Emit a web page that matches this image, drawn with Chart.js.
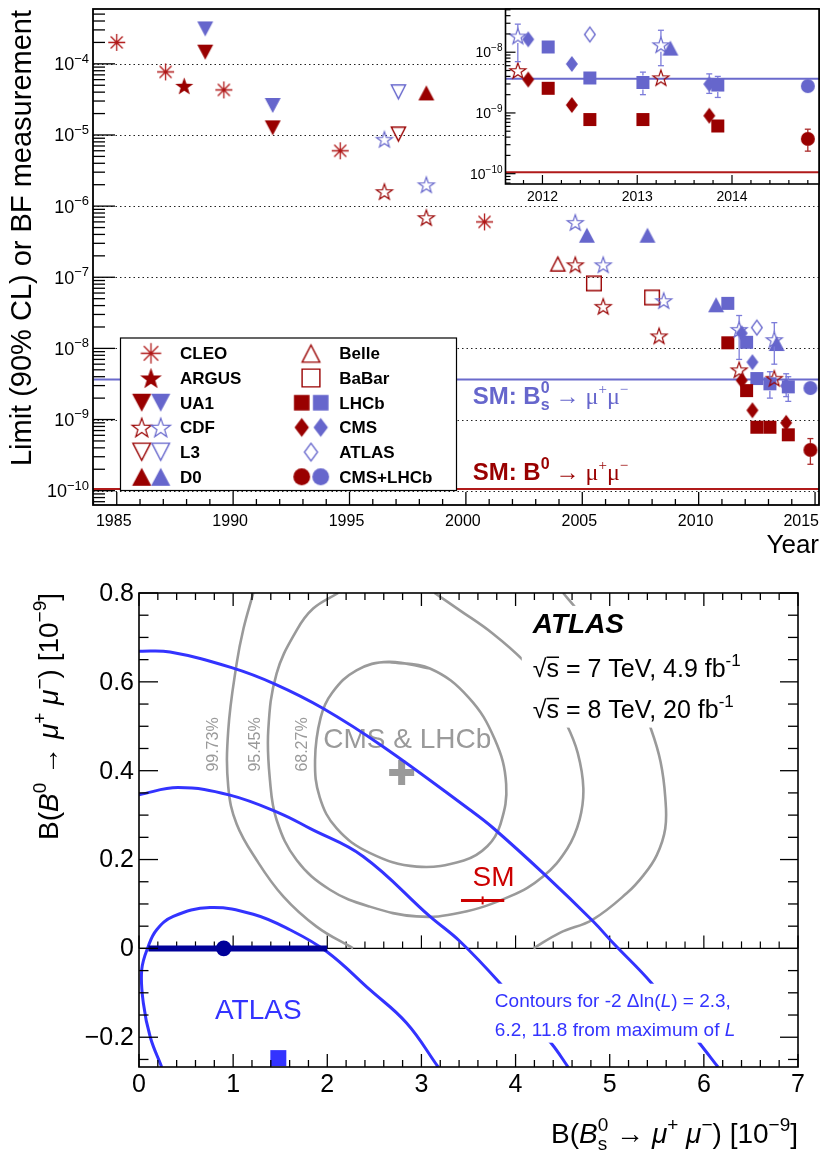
<!DOCTYPE html>
<html>
<head>
<meta charset="utf-8">
<script src="https://cdn.jsdelivr.net/npm/chart.js@4.4.1/dist/chart.umd.min.js"></script>
<style>
  html, body { margin: 0; padding: 0; background: #fff; }
  #wrap { position: relative; width: 832px; height: 1155px; }
  #wrap canvas { position: absolute; left: 0; }
  #top, #inset { top: 0; }
  #bottom { top: 560px; }
</style>
</head>
<body>
<div id="wrap">
  <canvas id="top" width="832" height="560"></canvas>
  <canvas id="inset" width="832" height="560"></canvas>
  <canvas id="bottom" width="832" height="595"></canvas>
</div>
<script>
const SANS = '"Liberation Sans", Arial, Helvetica, sans-serif';
const SERIF = '"Liberation Serif", "Times New Roman", serif';
const RED = '#990000', RED_L = '#b01818', BLUE = '#6666cc';
const RED_ERR = '#aa2a2a', BLUE_ERR = '#7c7cda';

// ---- top panel: limits / measurements vs year   [year, value, errLow, errHigh]
const cleoB0  = [[1985.0, 2.0e-4], [1987.1, 7.7e-5], [1989.6, 4.3e-5], [1994.6, 6.0e-6], [2000.8, 6.0e-7]];
const argusB0 = [[1987.9, 4.9e-5]];
const ua1B0   = [[1988.8, 1.46e-4], [1991.7, 1.26e-5]];
const ua1Bs   = [[1988.8, 3.1e-4], [1991.7, 2.6e-5]];
const cdfB0   = [[1996.5, 1.6e-6], [1998.3, 6.9e-7], [2004.7, 1.5e-7], [2005.9, 3.9e-8], [2008.3, 1.5e-8],
                 [2011.74, 5.0e-9], [2013.25, 3.8e-9]];
const cdfBs   = [[1996.5, 8.7e-6], [1998.3, 2.0e-6], [2004.7, 5.9e-7], [2005.9, 1.5e-7], [2008.5, 4.7e-8],
                 [2011.74, 1.85e-8, 0.7e-8, 2.9e-8], [2013.25, 1.33e-8, 6.0e-9, 2.3e-8]];
const l3B0    = [[1997.1, 1.02e-5]];
const l3Bs    = [[1997.1, 4.0e-5]];
const d0B0    = [[1998.3, 3.9e-5]];
const d0Bs    = [[2005.2, 3.9e-7], [2007.8, 3.9e-7], [2010.75, 4.1e-8], [2013.35, 1.17e-8]];
const belleB0 = [[2003.95, 1.55e-7]];
const babarB0 = [[2005.5, 8.2e-8], [2008.0, 5.2e-8]];
const lhcbB0  = [[2011.25, 1.2e-8], [2012.06, 2.55e-9], [2012.5, 7.8e-10], [2013.06, 7.8e-10], [2013.85, 6.1e-10]];
const lhcbBs  = [[2011.25, 4.3e-8], [2012.06, 1.22e-8], [2012.5, 3.77e-9], [2013.06, 3.18e-9, 2.0e-9, 4.7e-9],
                 [2013.85, 2.88e-9, 1.8e-9, 4.0e-9]];
const cmsB0   = [[2011.85, 3.55e-9], [2012.31, 1.35e-9], [2013.76, 9.0e-10]];
const cmsBs   = [[2011.85, 1.63e-8], [2012.31, 6.4e-9], [2013.76, 2.99e-9, 2.1e-9, 4.4e-9]];
const atlasBs = [[2012.5, 1.96e-8]];
const comboB0 = [[2014.8, 3.74e-10, 2.35e-10, 5.4e-10]];
const comboBs = [[2014.8, 2.77e-9]];
const smBs = 3.66e-9, smB0 = 1.06e-10;

const yearTicks = [1985, 1990, 1995, 2000, 2005, 2010, 2015];
const decadeExps = [-10, -9, -8, -7, -6, -5, -4];
const insetYearTicks = [2012, 2013, 2014];
const insetExps = [-10, -9, -8];

// ---- bottom panel: 2D contours  [B(Bs), B(B0)] in 1e-9
const atlas23 = [[0.241, -0.267], [0.12, -0.20], [0.046, -0.123], [0.029, -0.048], [0.099, 0.005], [0.188, 0.042],
                 [0.364, 0.072], [0.754, 0.092], [1.214, 0.077], [1.603, 0.042], [1.993, -0.007],
                 [2.452, -0.093], [2.842, -0.168], [3.178, -0.267]];
const atlas62 = [[0.0, 0.346], [0.417, 0.362], [0.966, 0.345], [1.497, 0.304], [1.815, 0.270], [2.381, 0.207],
                 [3.090, 0.072], [3.408, 0.016], [3.833, -0.078], [4.381, -0.214], [4.558, -0.267]];
const atlas118 = [[0.0, 0.669], [0.33, 0.667], [0.984, 0.632], [1.444, 0.595], [1.957, 0.540], [2.594, 0.454],
                  [3.514, 0.312], [3.762, 0.271], [4.310, 0.166], [4.823, 0.061], [5.036, 0.012],
                  [5.443, -0.078], [5.956, -0.214], [6.150, -0.267]];
const cmsLhcb68 = [[2.65, 0.645], [3.09, 0.630], [3.50, 0.565], [3.78, 0.47], [3.90, 0.37], [3.84, 0.28],
                   [3.70, 0.23], [3.45, 0.198], [2.95, 0.184], [2.45, 0.215], [2.10, 0.27], [1.92, 0.34],
                   [1.87, 0.424], [1.93, 0.52], [2.05, 0.575], [2.31, 0.626], [2.65, 0.645], [3.09, 0.630]];
const cmsLhcb95 = [[2.116, 0.80], [1.85, 0.765], [1.674, 0.716], [1.462, 0.619], [1.373, 0.491], [1.391, 0.379],
                   [1.462, 0.289], [1.674, 0.199], [2.028, 0.132], [2.452, 0.094], [2.948, 0.072],
                   [3.408, 0.080], [3.939, 0.117], [4.292, 0.162], [4.55, 0.225], [4.68, 0.29], [4.72, 0.36],
                   [4.66, 0.44], [4.54, 0.505], [4.33, 0.585], [4.098, 0.645], [3.75, 0.71], [3.408, 0.761],
                   [3.14, 0.80]];
const cmsLhcb99a = [[1.214, 0.80], [1.11, 0.72], [1.037, 0.641], [0.948, 0.491], [0.948, 0.364], [1.037, 0.280],
                    [1.249, 0.199], [1.532, 0.117], [1.886, 0.049], [2.275, 0.0]];
const cmsLhcb99b = [[4.505, 0.80], [4.629, 0.769], [5.0, 0.67], [5.28, 0.575], [5.443, 0.491], [5.54, 0.42],
                    [5.59, 0.34], [5.59, 0.27], [5.50, 0.21], [5.36, 0.165], [5.18, 0.124], [4.82, 0.065],
                    [4.47, 0.035], [4.19, 0.0]];
const cmsLhcbBest = [[2.79, 0.396]];
const atlasBest = [[0.9, 0.0]];
const atlasInterval = [[0.1, 0.0], [2.0, 0.0]];
const atlasMaxL = [[1.48, -0.247]];
const smPoint = [3.65, 0.108];
const smErr = [0.23, 0.009];

const bsTicks = [0, 1, 2, 3, 4, 5, 6, 7];
const b0Ticks = [-0.2, 0, 0.2, 0.4, 0.6, 0.8];
const b0TickLabels = ['\u22120.2', '0', '0.2', '0.4', '0.6', '0.8'];

// ---- helpers
function line(ctx, x1, y1, x2, y2) {
  ctx.beginPath(); ctx.moveTo(x1, y1); ctx.lineTo(x2, y2); ctx.stroke();
}

function drawRich(ctx, parts, x, y, align) {
  let total = 0;
  parts.forEach(p => { ctx.font = p.f; p.w = ctx.measureText(p.t).width; if (!p.over) total += p.w; });
  let cx = align === 'right' ? x - total : align === 'center' ? x - total / 2 : x;
  ctx.textAlign = 'left';
  ctx.textBaseline = 'alphabetic';
  parts.forEach(p => {
    ctx.font = p.f;
    ctx.fillText(p.t, cx, y + (p.dy || 0));
    if (p.bar) ctx.fillRect(cx, y - p.bar, p.w, 1.5);
    if (!p.over) cx += p.w;
  });
}

function drawPow(ctx, e, xr, yc, size) {
  drawRich(ctx, [
    { t: '10', f: `${size}px ${SANS}` },
    { t: '\u2212' + (-e), f: `${Math.round(size * 0.72)}px ${SANS}`, dy: -size * 0.42 }
  ], xr, yc + size * 0.36, 'right');
}

function makeMarker(shape, color, filled, w, h, lw) {
  const c = document.createElement('canvas');
  c.width = Math.ceil(w) + 4;
  c.height = Math.ceil(h) + 4;
  const g = c.getContext('2d');
  g.translate(c.width / 2, c.height / 2);
  g.strokeStyle = color;
  g.fillStyle = color;
  g.lineWidth = lw || 1;
  const rx = w / 2, ry = h / 2;
  g.beginPath();
  if (shape === 'asterisk') {
    for (let k = 0; k < 4; k++) {
      const t = k * Math.PI / 4;
      g.moveTo(-rx * Math.cos(t), -ry * Math.sin(t));
      g.lineTo(rx * Math.cos(t), ry * Math.sin(t));
    }
    g.stroke();
    g.beginPath(); g.arc(0, 0, 1.7, 0, 2 * Math.PI); g.fill();
    return c;
  }
  if (shape === 'star') {
    const R = rx - (filled ? 0 : lw / 2);
    for (let k = 0; k < 10; k++) {
      const r = k % 2 ? R * 0.4 : R, t = -Math.PI / 2 + k * Math.PI / 5;
      g.lineTo(r * Math.cos(t), r * Math.sin(t) + R * 0.095);
    }
    g.closePath();
  } else if (shape === 'triUp' || shape === 'triDown') {
    const s = shape === 'triUp' ? 1 : -1, ix = filled ? 0 : lw, iy = filled ? 0 : lw;
    g.moveTo(0, -s * (ry - iy));
    g.lineTo(rx - ix, s * (ry - iy / 2));
    g.lineTo(-(rx - ix), s * (ry - iy / 2));
    g.closePath();
  } else if (shape === 'square') {
    const d = filled ? 0 : lw / 2;
    g.rect(-rx + d, -ry + d, w - 2 * d, h - 2 * d);
  } else if (shape === 'diamond') {
    const d = filled ? 0 : lw / 2;
    g.moveTo(0, -ry + d); g.lineTo(rx - d, 0); g.lineTo(0, ry - d); g.lineTo(-rx + d, 0);
    g.closePath();
  } else if (shape === 'circle') {
    g.arc(0, 0, rx, 0, 2 * Math.PI);
  }
  if (filled) g.fill(); else g.stroke();
  return c;
}

const markerSpecs = {
  cleo:   ['asterisk', RED_L, false, 17, 17, 1.3],
  argus:  ['star', RED, true, 19, 18],
  ua1R:   ['triDown', RED, true, 16, 15],
  ua1B:   ['triDown', BLUE, true, 16, 15],
  cdfR:   ['star', RED, false, 18, 17, 1.2],
  cdfB:   ['star', BLUE, false, 18, 17, 1.2],
  l3R:    ['triDown', RED, false, 17, 16, 1.4],
  l3B:    ['triDown', BLUE, false, 17, 16, 1.4],
  d0R:    ['triUp', RED, true, 16, 15],
  d0B:    ['triUp', BLUE, true, 16, 15],
  belle:  ['triUp', RED, false, 17, 16, 1.4],
  babar:  ['square', RED, false, 16, 16, 1.4],
  lhcbR:  ['square', RED, true, 13, 13],
  lhcbB:  ['square', BLUE, true, 13, 13],
  cmsR:   ['diamond', RED, true, 12, 16],
  cmsB:   ['diamond', BLUE, true, 12, 16],
  atlas:  ['diamond', BLUE, false, 12, 16, 1.3],
  comboR: ['circle', RED, true, 14, 14],
  comboB: ['circle', BLUE, true, 14, 14]
};

function buildMarkers(s) {
  const out = {};
  Object.keys(markerSpecs).forEach(k => {
    const [shape, color, filled, w, h, lw] = markerSpecs[k];
    out[k] = makeMarker(shape, color, filled, w * s, h * s, lw);
  });
  return out;
}
const plotMarkers = buildMarkers(1);
const legendMarkers = buildMarkers(1.2);

const topSeries = [
  { data: cleoB0, m: 'cleo', err: RED_ERR }, { data: argusB0, m: 'argus', err: RED_ERR },
  { data: ua1B0, m: 'ua1R', err: RED_ERR }, { data: ua1Bs, m: 'ua1B', err: BLUE_ERR },
  { data: cdfB0, m: 'cdfR', err: RED_ERR }, { data: cdfBs, m: 'cdfB', err: BLUE_ERR },
  { data: l3B0, m: 'l3R', err: RED_ERR }, { data: l3Bs, m: 'l3B', err: BLUE_ERR },
  { data: d0B0, m: 'd0R', err: RED_ERR }, { data: d0Bs, m: 'd0B', err: BLUE_ERR },
  { data: belleB0, m: 'belle', err: RED_ERR }, { data: babarB0, m: 'babar', err: RED_ERR },
  { data: lhcbB0, m: 'lhcbR', err: RED_ERR }, { data: lhcbBs, m: 'lhcbB', err: BLUE_ERR },
  { data: cmsB0, m: 'cmsR', err: RED_ERR }, { data: cmsBs, m: 'cmsB', err: BLUE_ERR },
  { data: atlasBs, m: 'atlas', err: BLUE_ERR },
  { data: comboB0, m: 'comboR', err: RED_ERR }, { data: comboBs, m: 'comboB', err: BLUE_ERR }
];

const legendCols = [
  { mx: [151], pair: [141.7, 160.7], tx: 180, rows: [['CLEO', ['cleo']], ['ARGUS', ['argus']], ['UA1', ['ua1R', 'ua1B']],
    ['CDF', ['cdfR', 'cdfB']], ['L3', ['l3R', 'l3B']], ['D0', ['d0R', 'd0B']]] },
  { mx: [311], pair: [301.7, 320.7], tx: 339.3, rows: [['Belle', ['belle']], ['BaBar', ['babar']], ['LHCb', ['lhcbR', 'lhcbB']],
    ['CMS', ['cmsR', 'cmsB']], ['ATLAS', ['atlas']], ['CMS+LHCb', ['comboR', 'comboB']]] }
];

function topDatasets() {
  return topSeries.map(s => ({
    data: s.data.map(([x, y, lo, hi]) => ({ x, y, lo, hi })),
    pointStyle: plotMarkers[s.m],
    pointRadius: 8,
    errColor: s.err
  }));
}

const errorBars = {
  id: 'errorBars',
  afterDatasetsDraw(chart) {
    const { ctx, scales: { x, y } } = chart;
    ctx.save();
    ctx.lineWidth = 1.3;
    chart.data.datasets.forEach(ds => {
      ds.data.forEach(p => {
        if (p.lo == null || p.x < x.min || p.x > x.max) return;
        const px = x.getPixelForValue(p.x);
        const y1 = y.getPixelForValue(p.lo), y2 = y.getPixelForValue(p.hi);
        const yc = y.getPixelForValue(p.y);
        ctx.strokeStyle = ds.errColor;
        line(ctx, px, y2, px, yc - 7);
        line(ctx, px, yc + 7, px, y1);
        line(ctx, px - 3, y1, px + 3, y1);
        line(ctx, px - 3, y2, px + 3, y2);
      });
    });
    ctx.restore();
  }
};

function smLines(ctx, a, y) {
  ctx.lineWidth = 2;
  ctx.strokeStyle = '#6a6acc';
  const yb = y.getPixelForValue(smBs);
  line(ctx, a.left, yb, a.right, yb);
  ctx.strokeStyle = '#b01a1a';
  const yr = y.getPixelForValue(smB0);
  line(ctx, a.left, yr, a.right, yr);
}

const topAxes = {
  id: 'topAxes',
  beforeDatasetsDraw(chart) {
    const { ctx, chartArea: a, scales: { y } } = chart;
    ctx.save();
    ctx.strokeStyle = '#222';
    ctx.lineWidth = 1;
    ctx.setLineDash([1.5, 3]);
    decadeExps.forEach(e => {
      const py = Math.round(y.getPixelForValue(Math.pow(10, e))) + 0.5;
      line(ctx, a.left, py, a.right, py);
    });
    ctx.setLineDash([]);
    smLines(ctx, a, y);
    ctx.restore();
  },
  afterDatasetsDraw(chart) {
    const { ctx } = chart;
    ctx.save();
    // SM labels
    const up = -11, sm = `bold 16px ${SANS}`, ser = `24px ${SERIF}`, serSm = `15px ${SERIF}`;
    ctx.fillStyle = BLUE;
    drawRich(ctx, [
      { t: 'SM: B', f: `bold 24px ${SANS}` }, { t: 's', f: sm, dy: 6, over: true }, { t: '0', f: sm, dy: up },
      { t: ' \u2192 ', f: ser }, { t: '\u03bc', f: ser }, { t: '+', f: serSm, dy: -10 },
      { t: '\u03bc', f: ser }, { t: '\u2212', f: serSm, dy: -10 }
    ], 472.7, 404, 'left');
    ctx.fillStyle = RED;
    drawRich(ctx, [
      { t: 'SM: B', f: `bold 24px ${SANS}` }, { t: '0', f: sm, dy: up },
      { t: ' \u2192 ', f: ser }, { t: '\u03bc', f: ser }, { t: '+', f: serSm, dy: -10 },
      { t: '\u03bc', f: ser }, { t: '\u2212', f: serSm, dy: -10 }
    ], 472.7, 480, 'left');
    // legend
    ctx.fillStyle = '#fff';
    ctx.fillRect(120.5, 338, 336, 152.5);
    ctx.strokeStyle = '#000';
    ctx.lineWidth = 1.2;
    ctx.strokeRect(120.5, 338, 336, 152.5);
    ctx.fillStyle = '#000';
    ctx.textAlign = 'left';
    ctx.textBaseline = 'alphabetic';
    legendCols.forEach(col => {
      col.rows.forEach(([label, keys], i) => {
        const yc = 353.3 + i * 24.7;
        const xs = keys.length === 1 ? col.mx : col.pair;
        keys.forEach((k, j) => {
          const img = legendMarkers[k];
          ctx.drawImage(img, xs[j] - img.width / 2, yc - img.height / 2);
        });
        ctx.font = `bold 17px ${SANS}`;
        ctx.fillText(label, col.tx, yc + 6);
      });
    });
    ctx.restore();
  },
  afterDraw(chart) {
    const { ctx, chartArea: a, scales: { x, y } } = chart;
    ctx.save();
    ctx.strokeStyle = '#000';
    ctx.lineWidth = 1.8;
    ctx.strokeRect(a.left, a.top, a.right - a.left, a.bottom - a.top);
    ctx.lineWidth = 1.3;
    for (let yr = 1984; yr <= 2015; yr++) {
      const px = x.getPixelForValue(yr);
      line(ctx, px, a.bottom, px, a.bottom - (yr % 5 ? 6 : 13));
    }
    for (let e = -11; e <= -4; e++) {
      for (let k = 1; k <= 9; k++) {
        const v = k * Math.pow(10, e);
        if (v < y.min || v > y.max) continue;
        const py = y.getPixelForValue(v);
        line(ctx, a.left, py, a.left + (k === 1 ? 22 : 12), py);
      }
    }
    ctx.fillStyle = '#000';
    decadeExps.forEach(e => drawPow(ctx, e, a.left - 4, y.getPixelForValue(Math.pow(10, e)), 18));
    ctx.font = `16px ${SANS}`;
    ctx.textBaseline = 'alphabetic';
    yearTicks.forEach(v => {
      const px = x.getPixelForValue(v);
      // last label is kept inside the frame, as in the original
      ctx.textAlign = px + 18 > a.right ? 'right' : 'center';
      ctx.fillText(String(v), px + 18 > a.right ? a.right : px - 3, a.bottom + 21);
    });
    ctx.font = `26px ${SANS}`;
    ctx.textAlign = 'right';
    ctx.fillText('Year', a.right, a.bottom + 48);
    ctx.translate(31, a.top + 1);
    ctx.rotate(-Math.PI / 2);
    ctx.font = `29px ${SANS}`;
    ctx.textAlign = 'right';
    ctx.fillText('Limit (90% CL) or BF measurement', 0, 0);
    ctx.restore();
  }
};

const insetAxes = {
  id: 'insetAxes',
  beforeDatasetsDraw(chart) {
    const { ctx, chartArea: a, scales: { y } } = chart;
    ctx.save();
    ctx.fillStyle = '#fff';
    ctx.fillRect(a.left, a.top, a.right - a.left, a.bottom - a.top);
    smLines(ctx, a, y);
    ctx.restore();
  },
  afterDraw(chart) {
    const { ctx, chartArea: a, scales: { x, y } } = chart;
    ctx.save();
    ctx.strokeStyle = '#000';
    ctx.lineWidth = 1.6;
    ctx.strokeRect(a.left, a.top, a.right - a.left, a.bottom - a.top);
    ctx.lineWidth = 1.2;
    for (let k = Math.ceil(x.min * 5); k <= Math.floor(x.max * 5); k++) {
      const px = x.getPixelForValue(k / 5);
      line(ctx, px, a.bottom, px, a.bottom - (k % 5 ? 4 : 9));
    }
    for (let e = -11; e <= -8; e++) {
      for (let k = 1; k <= 9; k++) {
        const v = k * Math.pow(10, e);
        if (v < y.min || v > y.max) continue;
        const py = y.getPixelForValue(v);
        line(ctx, a.left, py, a.left + (k === 1 ? 10 : 5), py);
      }
    }
    ctx.fillStyle = '#000';
    insetExps.forEach(e => drawPow(ctx, e, a.left - 3, y.getPixelForValue(Math.pow(10, e)), 14));
    ctx.font = `14px ${SANS}`;
    ctx.textAlign = 'center';
    ctx.textBaseline = 'alphabetic';
    insetYearTicks.forEach(v => ctx.fillText(String(v), x.getPixelForValue(v), a.bottom + 17));
    ctx.restore();
  }
};

const commonOpts = {
  responsive: false,
  animation: false,
  events: [],
  plugins: { legend: { display: false }, tooltip: { enabled: false } }
};

new Chart(document.getElementById('top'), {
  type: 'scatter',
  data: { datasets: topDatasets() },
  options: Object.assign({}, commonOpts, {
    layout: { padding: { left: 93, right: 13, top: 3, bottom: 55 } },
    scales: {
      x: { type: 'linear', display: false, min: 1983.98, max: 2015.17 },
      y: { type: 'logarithmic', display: false, min: 6.29e-11, max: 5.9e-4 }
    }
  }),
  plugins: [errorBars, topAxes]
});

new Chart(document.getElementById('inset'), {
  type: 'scatter',
  data: { datasets: topDatasets() },
  options: Object.assign({}, commonOpts, {
    layout: { padding: { left: 505.5, right: 13, top: 3, bottom: 376 } },
    scales: {
      x: { type: 'linear', display: false, min: 2011.61, max: 2014.918 },
      y: { type: 'logarithmic', display: false, min: 6.76e-11, max: 5.15e-8 }
    }
  }),
  plugins: [errorBars, insetAxes]
});

// ---- bottom panel
const GRAY = '#9a9a9a', CBLUE = '#3333ff', NAVY = '#000099', SMRED = '#cc0000';
const curve = (arr, color, width, order) => ({
  data: arr.map(([x, y]) => ({ x, y })),
  showLine: true, borderColor: color, borderWidth: width,
  pointRadius: 0, tension: 0.4, fill: false, order
});

function bTitle(sz, sub) {
  const n = `${sz}px ${SANS}`, it = `italic ${sz}px ${SANS}`, sm = `${Math.round(sz * 0.68)}px ${SANS}`;
  const up = -sz * 0.42, dn = sz * 0.25;
  const parts = [{ t: 'B(', f: n }, { t: 'B', f: it }];
  if (sub) parts.push({ t: sub, f: sm, dy: dn, over: true });
  parts.push({ t: '0', f: sm, dy: up },
    { t: ' \u2192 ', f: n }, { t: '\u03bc', f: it }, { t: '+', f: sm, dy: up },
    { t: ' ', f: n }, { t: '\u03bc', f: it }, { t: '\u2212', f: sm, dy: up },
    { t: ') [10', f: n }, { t: '\u22129', f: sm, dy: up }, { t: ']', f: n });
  return parts;
}

const bottomAxes = {
  id: 'bottomAxes',
  beforeDatasetsDraw(chart) {
    const { ctx, chartArea: a, scales: { x, y } } = chart;
    ctx.save();
    const y0 = y.getPixelForValue(0);
    ctx.strokeStyle = '#000';
    ctx.lineWidth = 1.4;
    line(ctx, a.left, y0, a.right, y0);
    ctx.lineWidth = 1.2;
    for (let i = 0; i <= 35; i++) {
      const px = x.getPixelForValue(i * 0.2);
      line(ctx, px, y0, px, y0 - (i % 5 ? 7 : 13));
    }
    // CL labels
    ctx.fillStyle = GRAY;
    ctx.font = `16px ${SANS}`;
    ctx.textAlign = 'center';
    ctx.textBaseline = 'alphabetic';
    [['99.73%', 0.842], ['95.45%', 1.285], ['68.27%', 1.78]].forEach(([t, xv]) => {
      ctx.save();
      ctx.translate(x.getPixelForValue(xv), y.getPixelForValue(0.459));
      ctx.rotate(-Math.PI / 2);
      ctx.fillText(t, 0, 0);
      ctx.restore();
    });
    ctx.font = `28px ${SANS}`;
    ctx.textAlign = 'left';
    ctx.fillText('CMS & LHCb', x.getPixelForValue(1.957), y.getPixelForValue(0.451));
    ctx.restore();
  },
  afterDatasetsDraw(chart) {
    const { ctx, scales: { x, y } } = chart;
    ctx.save();
    // SM point with error
    const sx = x.getPixelForValue(smPoint[0]), sy = y.getPixelForValue(smPoint[1]);
    ctx.strokeStyle = SMRED;
    ctx.lineWidth = 3;
    line(ctx, x.getPixelForValue(smPoint[0] - smErr[0]), sy, x.getPixelForValue(smPoint[0] + smErr[0]), sy);
    ctx.lineWidth = 2;
    line(ctx, sx, y.getPixelForValue(smPoint[1] - smErr[1]), sx, y.getPixelForValue(smPoint[1] + smErr[1]));
    ctx.fillStyle = SMRED;
    ctx.font = `28px ${SANS}`;
    ctx.textAlign = 'left';
    ctx.textBaseline = 'alphabetic';
    ctx.fillText('SM', sx - 10, sy - 14);
    // ATLAS label
    ctx.fillStyle = CBLUE;
    ctx.fillText('ATLAS', x.getPixelForValue(0.807), y.getPixelForValue(-0.158));
    // contour text box
    const bx1 = x.getPixelForValue(3.727), bx2 = x.getPixelForValue(6.826);
    const by1 = y.getPixelForValue(-0.0795), by2 = y.getPixelForValue(-0.2123);
    ctx.fillStyle = '#fff';
    ctx.fillRect(bx1, by1, bx2 - bx1, by2 - by1);
    ctx.fillStyle = CBLUE;
    const f19 = `19px ${SANS}`, i19 = `italic 19px ${SANS}`;
    const tx = x.getPixelForValue(3.78);
    drawRich(ctx, [{ t: 'Contours for -2 \u0394ln(', f: f19 }, { t: 'L', f: i19 }, { t: ') = 2.3,', f: f19 }],
      tx, y.getPixelForValue(-0.131), 'left');
    drawRich(ctx, [{ t: '6.2, 11.8 from maximum of ', f: f19 }, { t: 'L', f: i19 }],
      tx, y.getPixelForValue(-0.198), 'left');
    // ATLAS header box
    const hx1 = x.getPixelForValue(4.066), hx2 = x.getPixelForValue(6.965);
    const hy1 = y.getPixelForValue(0.771), hy2 = y.getPixelForValue(0.497);
    ctx.fillStyle = '#fff';
    ctx.fillRect(hx1, hy1, hx2 - hx1, hy2 - hy1);
    ctx.fillStyle = '#000';
    const ax = x.getPixelForValue(4.183);
    ctx.font = `italic bold 28px ${SANS}`;
    ctx.fillText('ATLAS', ax, y.getPixelForValue(0.710));
    const f25 = `25px ${SANS}`, s17 = `17px ${SANS}`;
    drawRich(ctx, [{ t: '\u221a', f: f25 }, { t: 's', f: f25, bar: 20 }, { t: ' = 7 TeV, 4.9 fb', f: f25 },
      { t: '-1', f: s17, dy: -11 }], ax, y.getPixelForValue(0.612), 'left');
    drawRich(ctx, [{ t: '\u221a', f: f25 }, { t: 's', f: f25, bar: 20 }, { t: ' = 8 TeV, 20 fb', f: f25 },
      { t: '-1', f: s17, dy: -11 }], ax, y.getPixelForValue(0.519), 'left');
    ctx.restore();
  },
  afterDraw(chart) {
    const { ctx, chartArea: a, scales: { x, y } } = chart;
    ctx.save();
    ctx.strokeStyle = '#000';
    ctx.lineWidth = 1.6;
    ctx.strokeRect(a.left, a.top, a.right - a.left, a.bottom - a.top);
    ctx.lineWidth = 1.3;
    for (let i = 0; i <= 35; i++) {
      const px = x.getPixelForValue(i * 0.2), len = i % 5 ? 7 : 13;
      line(ctx, px, a.bottom, px, a.bottom - len);
      line(ctx, px, a.top, px, a.top + len);
    }
    for (let i = -5; i <= 16; i++) {
      const v = i * 0.05;
      if (v < y.min) continue;
      const py = y.getPixelForValue(v), major = i % 4 === 0;
      line(ctx, a.left, py, a.left + (major ? 19 : 9.5), py);
      line(ctx, a.right, py, a.right - (major ? 18 : 10), py);
    }
    ctx.fillStyle = '#000';
    ctx.font = `25px ${SANS}`;
    ctx.textAlign = 'right';
    ctx.textBaseline = 'middle';
    b0Ticks.forEach((v, i) => ctx.fillText(b0TickLabels[i], a.left - 5, y.getPixelForValue(v) + 1));
    ctx.textAlign = 'center';
    ctx.textBaseline = 'alphabetic';
    bsTicks.forEach(v => ctx.fillText(String(v), x.getPixelForValue(v), a.bottom + 25));
    drawRich(ctx, bTitle(28, 's'), a.right, a.bottom + 76, 'right');
    ctx.translate(58, a.top);
    ctx.rotate(-Math.PI / 2);
    drawRich(ctx, bTitle(28, null), 0, 0, 'right');
    ctx.restore();
  }
};

new Chart(document.getElementById('bottom'), {
  type: 'scatter',
  data: {
    datasets: [
      { data: atlasInterval.map(([x, y]) => ({ x, y })), showLine: true, borderColor: NAVY, borderWidth: 6,
        pointRadius: 0, borderCapStyle: 'butt', order: 0 },
      { data: atlasBest.map(([x, y]) => ({ x, y })), pointStyle: 'circle', pointRadius: 7.8,
        backgroundColor: NAVY, borderColor: NAVY, borderWidth: 0, order: 0 },
      { data: atlasMaxL.map(([x, y]) => ({ x, y })), pointStyle: 'rect', pointRadius: 11.3,
        backgroundColor: CBLUE, borderColor: CBLUE, borderWidth: 0, order: 0 },
      curve(atlas23, CBLUE, 3, 1),
      curve(atlas62, CBLUE, 3, 1),
      curve(atlas118, CBLUE, 3, 1),
      { data: cmsLhcbBest.map(([x, y]) => ({ x, y })), pointStyle: 'cross', pointRadius: 12.5,
        borderColor: GRAY, borderWidth: 7, order: 2 },
      curve(cmsLhcb68, GRAY, 2.6, 3),
      curve(cmsLhcb95, GRAY, 2.6, 3),
      curve(cmsLhcb99a, GRAY, 2.6, 3),
      curve(cmsLhcb99b, GRAY, 2.6, 3)
    ]
  },
  options: Object.assign({}, commonOpts, {
    layout: { padding: { left: 139, right: 34, top: 33, bottom: 88 } },
    scales: {
      x: { type: 'linear', display: false, min: 0, max: 7 },
      y: { type: 'linear', display: false, min: -0.267, max: 0.8 }
    }
  }),
  plugins: [bottomAxes]
});
</script>
</body>
</html>
